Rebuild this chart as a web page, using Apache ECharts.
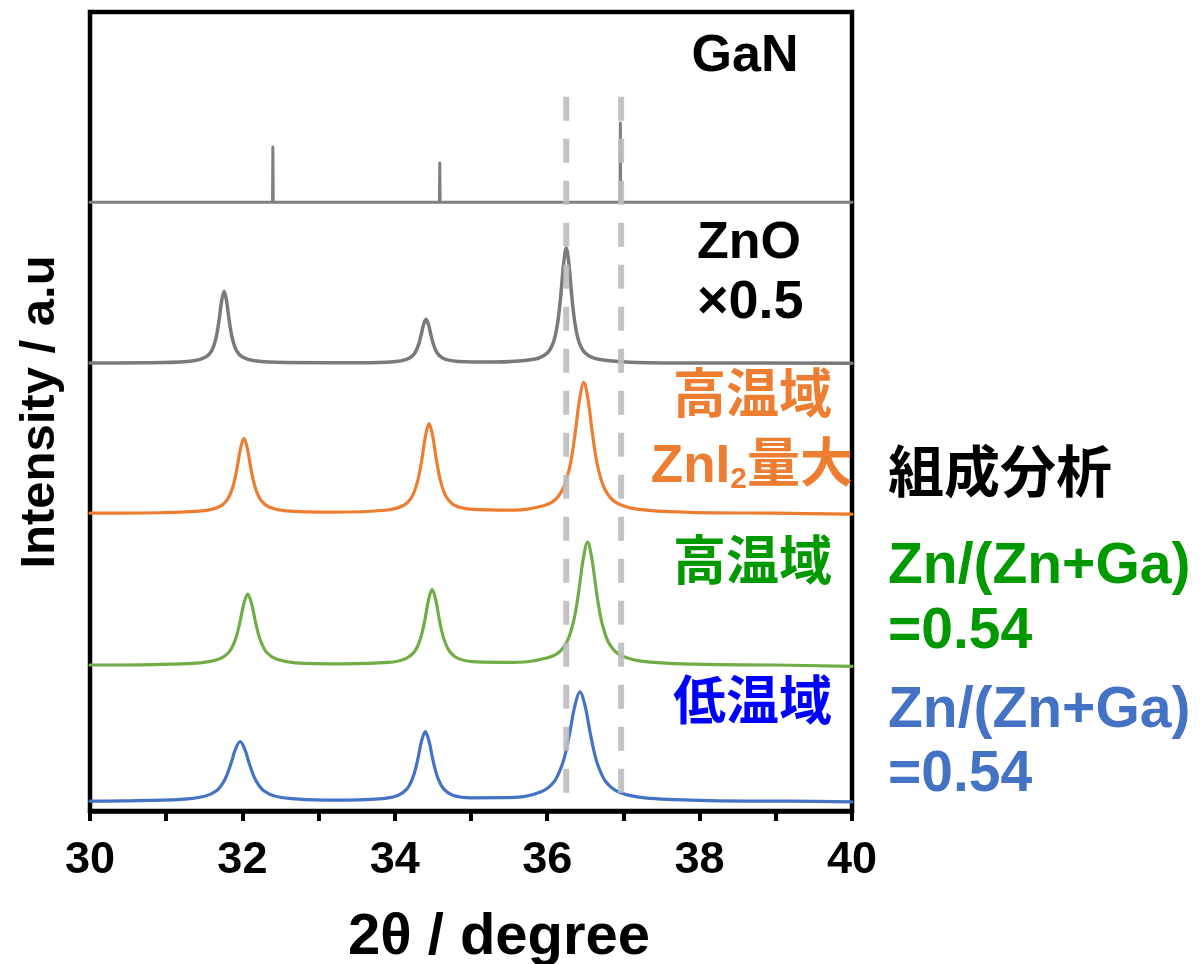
<!DOCTYPE html>
<html>
<head>
<meta charset="utf-8">
<script src="https://cdn.jsdelivr.net/npm/echarts@6/dist/echarts.min.js"></script>
<style>
html,body{margin:0;padding:0;background:#fff;}
#chart{width:1200px;height:964px;}
</style>
</head>
<body>
<div id="chart"></div>
<script>
// ---------- data (2θ in degree, intensity in a.u., baseline-relative) ----------
const xTicks = [30, 32, 34, 36, 38, 40];

const lowTemp = [ // 低温域 (blue)
  [30.0,0.03],[30.42,0.07],[31.195,0.26],[31.505,0.65],[31.66,1.34],[31.753,2.45],[31.799,3.37],[31.846,4.61],[31.908,6.50],[31.97,7.5],
  [32.032,6.50],[32.094,4.61],[32.141,3.37],[32.187,2.45],[32.28,1.34],[32.435,0.65],[32.745,0.28],[33.2,0.16],[33.8,0.32],[34.04,0.75],
  [34.16,1.57],[34.232,2.85],[34.268,3.93],[34.304,5.38],[34.352,7.59],[34.40,8.75],[34.448,7.59],[34.496,5.38],[34.532,3.93],[34.568,2.85],
  [34.64,1.57],[34.76,0.78],[35.0,0.45],[35.58,0.5],[35.92,1.2],[36.09,2.46],[36.192,4.48],[36.243,6.17],[36.294,8.46],[36.362,11.92],
  [36.43,13.75],[36.498,11.92],[36.566,8.46],[36.617,6.17],[36.668,4.48],[36.77,2.46],[36.94,1.17],[37.28,0.45],[38.13,0.11],[39.2,0.03],
  [40.0,-0.05]
];
const highTemp = [ // 高温域 (green)
  [30.0,0.02],[30.82,0.08],[31.445,0.3],[31.695,0.77],[31.82,1.59],[31.895,2.90],[31.9325,4.0],[31.97,5.47],[32.02,7.72],[32.07,8.9],
  [32.12,7.72],[32.17,5.47],[32.2075,4.0],[32.245,2.90],[32.32,1.59],[32.445,0.77],[32.695,0.3],[33.3,0.17],[33.915,0.34],[34.145,0.82],
  [34.26,1.70],[34.329,3.10],[34.3635,4.27],[34.398,5.84],[34.444,8.24],[34.49,9.5],[34.536,8.24],[34.582,5.84],[34.6165,4.27],[34.651,3.10],
  [34.72,1.70],[34.835,0.82],[35.065,0.42],[35.55,0.36],[35.83,0.56],[36.11,1.31],[36.25,2.76],[36.334,5.02],[36.376,6.91],[36.418,9.47],
  [36.474,13.35],[36.53,15.4],[36.586,13.35],[36.642,9.47],[36.684,6.91],[36.726,5.02],[36.81,2.76],[36.95,1.31],[37.23,0.51],[37.93,0.12],
  [39.0,0.02],[40.0,-0.15]
];
const highTempZnI2 = [ // 高温域 ZnI2量大 (orange)
  [30.0,0.02],[30.92,0.08],[31.47,0.31],[31.69,0.80],[31.80,1.68],[31.866,3.06],[31.899,4.22],[31.932,5.78],[31.976,8.15],[32.02,9.4],
  [32.064,8.15],[32.108,5.78],[32.141,4.22],[32.174,3.06],[32.24,1.68],[32.35,0.80],[32.57,0.31],[33.2,0.15],[33.875,0.39],[34.105,0.96],
  [34.22,2.01],[34.289,3.67],[34.3235,5.05],[34.358,6.92],[34.404,9.75],[34.45,11.25],[34.496,9.75],[34.542,6.92],[34.5765,5.05],[34.611,3.67],
  [34.68,2.01],[34.795,0.96],[35.025,0.5],[35.5,0.4],[35.78,0.6],[36.06,1.39],[36.2,2.94],[36.284,5.35],[36.326,7.36],[36.368,10.09],
  [36.424,14.22],[36.48,16.4],[36.536,14.22],[36.592,10.09],[36.634,7.36],[36.676,5.35],[36.76,2.94],[36.90,1.39],[37.18,0.54],[37.88,0.13],
  [39.0,0.02],[40.0,-0.1]
];
const zno = [ // ZnO ×0.5 (gray)
  [30.0,0.02],[30.96,0.07],[31.36,0.30],[31.52,0.77],[31.60,1.61],[31.648,2.93],[31.672,4.04],[31.696,5.54],[31.728,7.80],[31.76,9.0],
  [31.792,7.80],[31.824,5.54],[31.848,4.04],[31.872,2.93],[31.92,1.61],[32.0,0.77],[32.16,0.30],[32.56,0.08],[33.56,0.05],[33.985,0.18],
  [34.155,0.47],[34.24,0.98],[34.291,1.79],[34.3165,2.47],[34.342,3.38],[34.376,4.77],[34.41,5.5],[34.444,4.77],[34.478,3.38],[34.5035,2.47],
  [34.529,1.79],[34.58,0.98],[34.665,0.47],[34.835,0.22],[35.3,0.13],[35.825,0.48],[35.995,1.22],[36.08,2.58],[36.131,4.69],[36.1565,6.47],
  [36.182,8.86],[36.216,12.48],[36.25,14.4],[36.284,12.48],[36.318,8.86],[36.3435,6.47],[36.369,4.69],[36.42,2.58],[36.505,1.22],[36.675,0.48],
  [37.1,0.12],[38.0,0.02],[40.0,0.0]
];
const gan = [ // GaN reference sticks
  [30.0,0],[32.395,0],[32.40,6.9],[32.405,0],[34.585,0],[34.59,4.9],[34.595,0],[36.955,0],[36.96,9.9],[36.965,0],[40.0,0]
];
const offsets = { lowTemp: 1.2, highTemp: 18.25, highTempZnI2: 37.25, zno: 56.05, gan: 76.2 };
const refLines = [36.25, 36.97];     // dashed guide positions (2θ)
const refLineRange = [1.4, 89.4];    // dashed guide extent (a.u.)

// ---------- build ----------
const shift = (arr, off) => arr.map(p => [p[0], p[1] + off]);
const LAT = "'Liberation Sans', Arial, 'Noto Sans CJK JP', sans-serif";

function curve(name, arr, off, color, width, smooth) {
  return {
    name, type: 'line', data: shift(arr, off), showSymbol: false, symbol: 'none',
    smooth: smooth, animation: false, silent: true,
    lineStyle: { color, width, join: 'round', cap: 'round' }, z: 2
  };
}

const series = [
  curve('GaN', gan, offsets.gan, '#808080', 3, false),
  curve('ZnO', zno, offsets.zno, '#7a7a7a', 3.5, 0.35),
  curve('高温域 ZnI2量大', highTempZnI2, offsets.highTempZnI2, '#ED7D31', 3.2, 0.35),
  curve('高温域', highTemp, offsets.highTemp, '#70AD47', 3.2, 0.35),
  curve('低温域', lowTemp, offsets.lowTemp, '#4472C4', 3.2, 0.35)
];
refLines.forEach((x, i) => {
  series.push({
    name: 'ref' + i, type: 'line', showSymbol: false, symbol: 'none', animation: false, silent: true,
    data: [[x, refLineRange[1]], [x, refLineRange[0]]],
    lineStyle: { color: '#BDBDBD', width: 6, type: [24, 18], opacity: 0.9 }, z: 5
  });
});

function txt(x, y, text, color, size, align, extra) {
  return Object.assign({
    type: 'text', x, y, z: 10,
    style: { text, fill: color, font: 'bold ' + size + 'px ' + LAT, textAlign: align, textVerticalAlign: 'middle' }
  }, extra || {});
}

const chart = echarts.init(document.getElementById('chart'), null, { renderer: 'canvas' });
chart.setOption({
  animation: false,
  backgroundColor: '#fff',
  grid: { left: 90, right: 348, top: 12, bottom: 153, show: true, borderColor: '#000', borderWidth: 4.5, backgroundColor: 'transparent' },
  xAxis: {
    type: 'value', min: 30, max: 40, interval: 1,
    axisLine: { show: true, lineStyle: { color: '#000', width: 4.5 } },
    axisTick: { show: true, length: 10, lineStyle: { color: '#000', width: 4 } },
    axisLabel: {
      margin: 27, color: '#000', fontSize: 45, fontWeight: 'bold', fontFamily: LAT,
      formatter: v => (xTicks.indexOf(v) >= 0 ? String(v) : '')
    },
    splitLine: { show: false }
  },
  yAxis: { type: 'value', min: 0, max: 100, show: false, splitLine: { show: false } },
  series,
  graphic: [
    txt(499, 938, '2θ / degree', '#000', 58, 'center'),
    txt(40, 412, 'Intensity / a.u', '#000', 49, 'center', { rotation: Math.PI / 2 }),
    txt(745, 57, 'GaN', '#000', 52, 'center'),
    txt(697, 244, 'ZnO', '#000', 52, 'left'),
    txt(697, 303, '×0.5', '#000', 54, 'left'),
    txt(832, 398, '高温域', '#ED7D31', 53, 'right'),
    {
      type: 'text', x: 853, y: 467, z: 10,
      style: {
        text: '{a|ZnI}{s|2}{a|量大}', textAlign: 'right', textVerticalAlign: 'middle',
        rich: {
          a: { fill: '#ED7D31', font: 'bold 53px ' + LAT, lineHeight: 56 },
          s: { fill: '#ED7D31', font: 'bold 30px ' + LAT, lineHeight: 30, verticalAlign: 'bottom' }
        }
      }
    },
    txt(888, 477, '組成分析', '#000', 56, 'left'),
    txt(832, 565, '高温域', '#009900', 53, 'right'),
    txt(888, 567, 'Zn/(Zn+Ga)', '#009900', 57, 'left'),
    txt(888, 632, '=0.54', '#009900', 57, 'left'),
    txt(832, 705, '低温域', '#0000FF', 53, 'right'),
    txt(888, 711, 'Zn/(Zn+Ga)', '#4472C4', 57, 'left'),
    txt(888, 775, '=0.54', '#4472C4', 57, 'left')
  ]
});
</script>
</body>
</html>
